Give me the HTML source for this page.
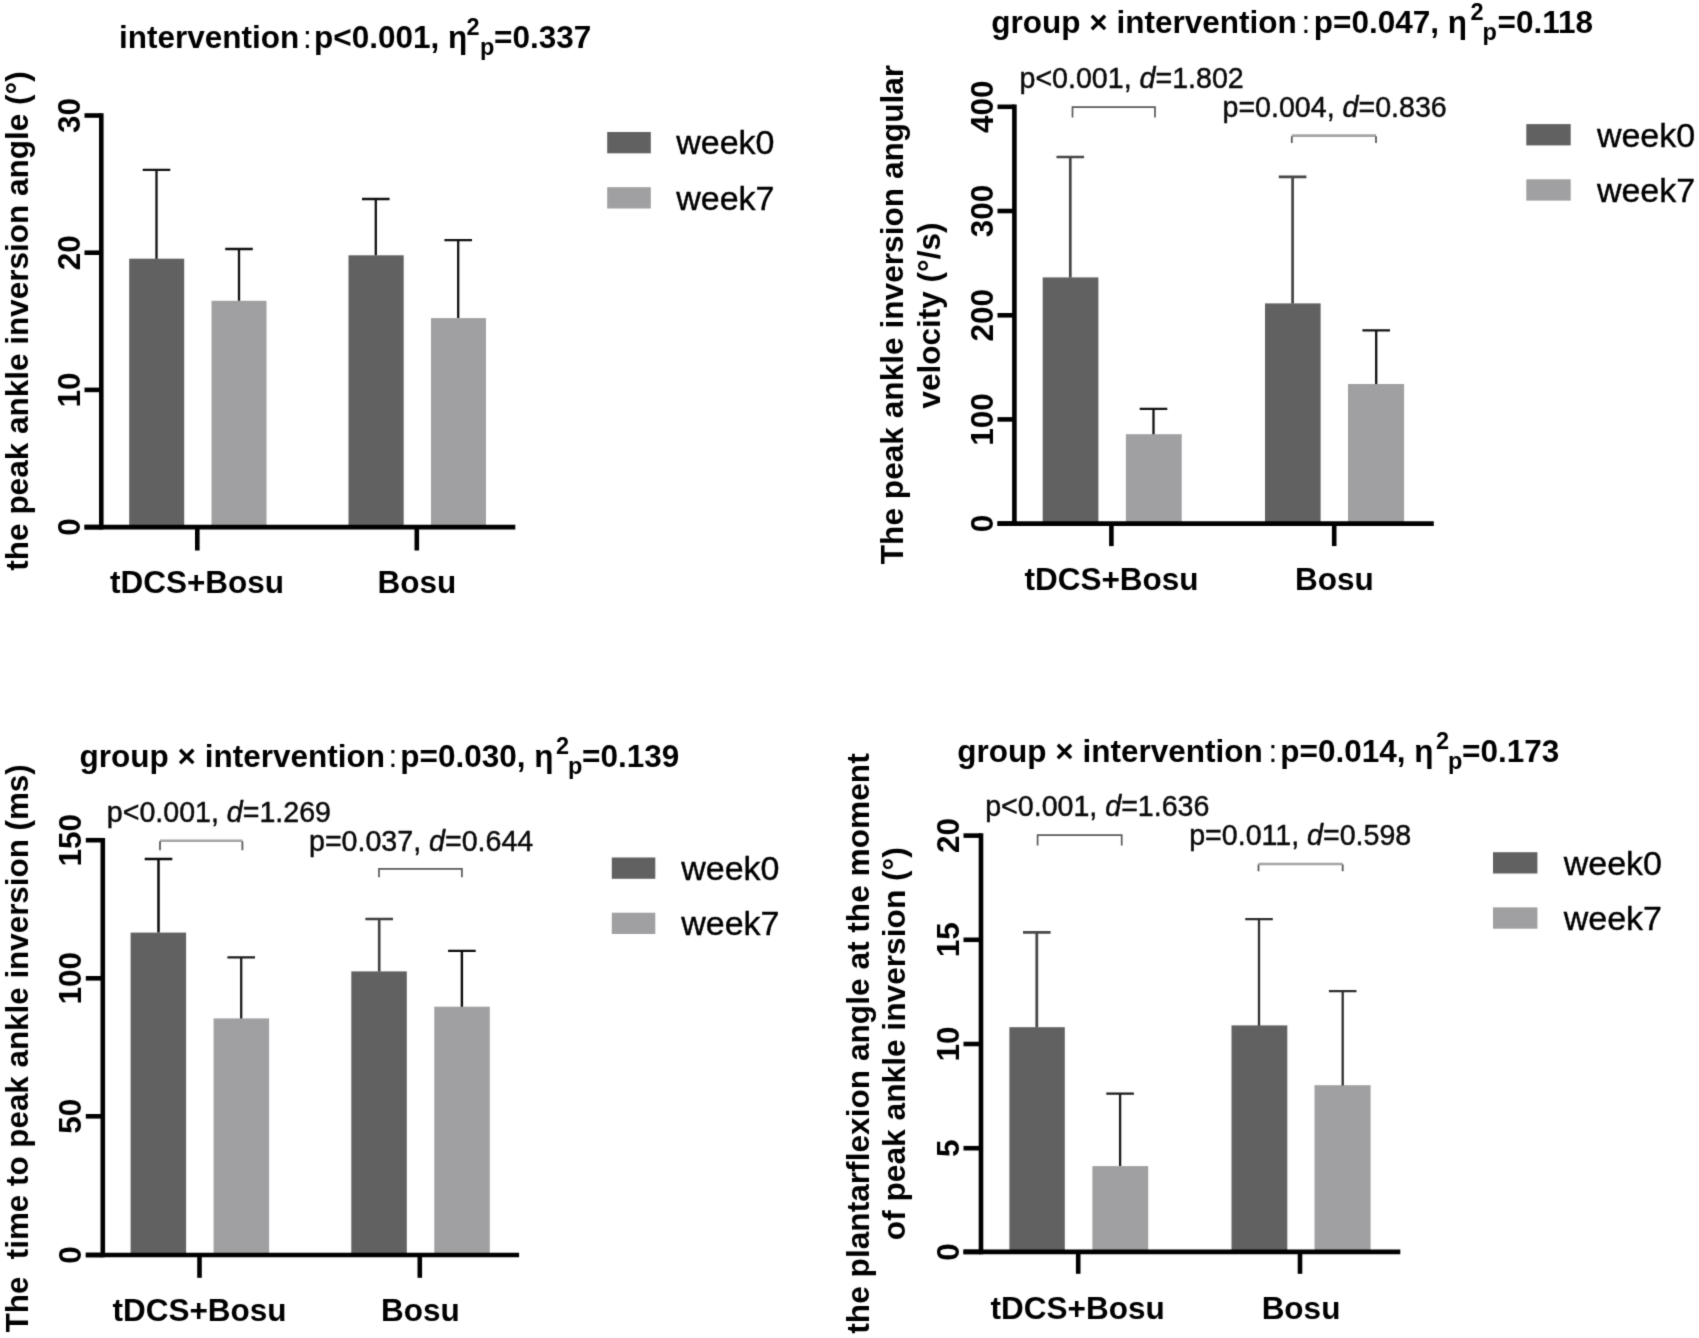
<!DOCTYPE html>
<html><head><meta charset="utf-8"><title>Figure</title>
<style>html,body{margin:0;padding:0;background:#fff}svg{display:block}</style>
</head><body>
<svg width="1699" height="1338" viewBox="0 0 1699 1338">
<defs><filter id="soft" x="0" y="0" width="1699" height="1338" filterUnits="userSpaceOnUse" color-interpolation-filters="sRGB"><feConvolveMatrix order="3" kernelMatrix="0.019 0.1 0.019 0.1 0.524 0.1 0.019 0.1 0.019" divisor="1" edgeMode="none" preserveAlpha="false"/></filter></defs>
<rect width="1699" height="1338" fill="#fff"/>
<g filter="url(#soft)">
<rect x="129.2" y="258.7" width="55.0" height="268.4" fill="#616161"/>
<rect x="211.5" y="300.8" width="55.0" height="226.3" fill="#a0a0a2"/>
<rect x="348.5" y="255.3" width="55.2" height="271.8" fill="#616161"/>
<rect x="431" y="318.1" width="55" height="209.0" fill="#a0a0a2"/>
<path d="M156.5 258.7V169.8M142.7 169.8H170.3" stroke="#111" stroke-width="2.3" fill="none"/>
<path d="M239 300.8V249M225.2 249H252.8" stroke="#111" stroke-width="2.3" fill="none"/>
<path d="M375.8 255.3V199M362.0 199H389.6" stroke="#111" stroke-width="2.3" fill="none"/>
<path d="M458.2 318.1V240.1M444.4 240.1H472.0" stroke="#111" stroke-width="2.3" fill="none"/>
<path d="M101.3 113.2V529.4" stroke="#000" stroke-width="4.6" fill="none"/>
<path d="M84.5 527.1H515.3" stroke="#000" stroke-width="4.6" fill="none"/>
<path d="M84.5 115.5H101.3" stroke="#000" stroke-width="4.6" fill="none"/>
<text transform="translate(80.2,115.5) rotate(-90)" font-family="Liberation Sans, sans-serif" font-weight="bold" font-size="31.5" text-anchor="middle" xml:space="preserve">30</text>
<path d="M84.5 252.7H101.3" stroke="#000" stroke-width="4.6" fill="none"/>
<text transform="translate(80.2,252.7) rotate(-90)" font-family="Liberation Sans, sans-serif" font-weight="bold" font-size="31.5" text-anchor="middle" xml:space="preserve">20</text>
<path d="M84.5 389.9H101.3" stroke="#000" stroke-width="4.6" fill="none"/>
<text transform="translate(80.2,389.9) rotate(-90)" font-family="Liberation Sans, sans-serif" font-weight="bold" font-size="31.5" text-anchor="middle" xml:space="preserve">10</text>
<path d="M84.5 527.1H101.3" stroke="#000" stroke-width="4.6" fill="none"/>
<text transform="translate(80.2,527.1) rotate(-90)" font-family="Liberation Sans, sans-serif" font-weight="bold" font-size="31.5" text-anchor="middle" xml:space="preserve">0</text>
<path d="M197.3 527.1V550.5" stroke="#000" stroke-width="4.6" fill="none"/>
<path d="M416.8 527.1V550.5" stroke="#000" stroke-width="4.6" fill="none"/>
<text x="197" y="593.3" font-family="Liberation Sans, sans-serif" font-weight="bold" font-size="31.5" text-anchor="middle" fill="#000" xml:space="preserve">tDCS+Bosu</text>
<text x="416.8" y="593.3" font-family="Liberation Sans, sans-serif" font-weight="bold" font-size="31.5" text-anchor="middle" fill="#000" xml:space="preserve">Bosu</text>
<rect x="607.2" y="132" width="43.6" height="21.3" fill="#616161"/>
<rect x="607.2" y="187.2" width="43.6" height="21.3" fill="#a0a0a2"/>
<text x="676.2" y="154.4" font-family="Liberation Sans, sans-serif" stroke="#000" stroke-width="0.4" font-size="34" text-anchor="start" fill="#000" xml:space="preserve">week0</text>
<text x="676.2" y="209.6" font-family="Liberation Sans, sans-serif" stroke="#000" stroke-width="0.4" font-size="34" text-anchor="start" fill="#000" xml:space="preserve">week7</text>
<text transform="translate(27.7,321) rotate(-90)" font-family="Liberation Sans, sans-serif" font-weight="bold" font-size="31.5" text-anchor="middle" xml:space="preserve">the peak ankle inversion angle (°)</text>
<text x="119" y="48.4" font-family="Liberation Sans, sans-serif" font-weight="bold" font-size="31.5" text-anchor="start" fill="#000" xml:space="preserve">intervention</text>
<text x="303" y="48.4" font-family="Liberation Sans, sans-serif" font-size="31.5" text-anchor="start" fill="#000" xml:space="preserve">:</text>
<text x="314" y="48.4" font-family="Liberation Sans, sans-serif" font-weight="bold" font-size="31.5" text-anchor="start" fill="#000" xml:space="preserve">p&lt;0.001, η</text>
<text x="466.5" y="35.4" font-family="Liberation Sans, sans-serif" font-weight="bold" font-size="23.5" text-anchor="start" fill="#000" xml:space="preserve">2</text>
<text x="480" y="55.2" font-family="Liberation Sans, sans-serif" font-weight="bold" font-size="23.5" text-anchor="start" fill="#000" xml:space="preserve">p</text>
<text x="494" y="48.4" font-family="Liberation Sans, sans-serif" font-weight="bold" font-size="31.5" text-anchor="start" fill="#000" xml:space="preserve">=0.337</text>
<rect x="1042.7" y="277.4" width="55.7" height="246.2" fill="#616161"/>
<rect x="1125.9" y="434.2" width="55.8" height="89.4" fill="#a0a0a2"/>
<rect x="1265" y="303.4" width="55.6" height="220.2" fill="#616161"/>
<rect x="1348" y="384" width="56.1" height="139.6" fill="#a0a0a2"/>
<path d="M1070.3 277.4V157.0M1056.5 157.0H1084.1" stroke="#454545" stroke-width="2.7" fill="none"/>
<path d="M1153.5 434.2V408.8M1139.7 408.8H1167.3" stroke="#111" stroke-width="2.3" fill="none"/>
<path d="M1292.6 303.4V176.8M1278.8 176.8H1306.4" stroke="#454545" stroke-width="2.7" fill="none"/>
<path d="M1376.2 384V330.4M1362.4 330.4H1390.0" stroke="#111" stroke-width="2.3" fill="none"/>
<path d="M1014.4 104.5V525.9" stroke="#000" stroke-width="4.6" fill="none"/>
<path d="M997.5 523.6H1433.8" stroke="#000" stroke-width="4.6" fill="none"/>
<path d="M997.5 106.8H1014.4" stroke="#000" stroke-width="4.6" fill="none"/>
<text transform="translate(992.7,106.8) rotate(-90)" font-family="Liberation Sans, sans-serif" font-weight="bold" font-size="31.5" text-anchor="middle" xml:space="preserve">400</text>
<path d="M997.5 211H1014.4" stroke="#000" stroke-width="4.6" fill="none"/>
<text transform="translate(992.7,211) rotate(-90)" font-family="Liberation Sans, sans-serif" font-weight="bold" font-size="31.5" text-anchor="middle" xml:space="preserve">300</text>
<path d="M997.5 315.3H1014.4" stroke="#000" stroke-width="4.6" fill="none"/>
<text transform="translate(992.7,315.3) rotate(-90)" font-family="Liberation Sans, sans-serif" font-weight="bold" font-size="31.5" text-anchor="middle" xml:space="preserve">200</text>
<path d="M997.5 419.4H1014.4" stroke="#000" stroke-width="4.6" fill="none"/>
<text transform="translate(992.7,419.4) rotate(-90)" font-family="Liberation Sans, sans-serif" font-weight="bold" font-size="31.5" text-anchor="middle" xml:space="preserve">100</text>
<path d="M997.5 523.6H1014.4" stroke="#000" stroke-width="4.6" fill="none"/>
<text transform="translate(992.7,523.6) rotate(-90)" font-family="Liberation Sans, sans-serif" font-weight="bold" font-size="31.5" text-anchor="middle" xml:space="preserve">0</text>
<path d="M1111.4 523.6V546.1" stroke="#000" stroke-width="4.6" fill="none"/>
<path d="M1334.2 523.6V546.1" stroke="#000" stroke-width="4.6" fill="none"/>
<text x="1111.5" y="590.3" font-family="Liberation Sans, sans-serif" font-weight="bold" font-size="31.5" text-anchor="middle" fill="#000" xml:space="preserve">tDCS+Bosu</text>
<text x="1334.4" y="590.3" font-family="Liberation Sans, sans-serif" font-weight="bold" font-size="31.5" text-anchor="middle" fill="#000" xml:space="preserve">Bosu</text>
<path d="M1072.5 117.4V107.2H1155.0V117.4" stroke="#595959" stroke-width="1.7" fill="none"/>
<path d="M1291.8 135.6H1376.0" stroke="#a4a4a4" stroke-width="2.6" fill="none"/>
<path d="M1291.8 142.9V136.2M1376.0 142.9V136.2" stroke="#5a5a5a" stroke-width="1.8" fill="none"/>
<text x="1019.5" y="87.6" font-family="Liberation Sans, sans-serif" stroke="#0a0a0a" stroke-width="0.45" font-size="28.6" text-anchor="start" fill="#0a0a0a" xml:space="preserve">p&lt;0.001, <tspan font-style='italic'>d</tspan>=1.802</text>
<text x="1222.5" y="116.9" font-family="Liberation Sans, sans-serif" stroke="#0a0a0a" stroke-width="0.45" font-size="28.6" text-anchor="start" fill="#0a0a0a" xml:space="preserve">p=0.004, <tspan font-style='italic'>d</tspan>=0.836</text>
<rect x="1526.3" y="124.1" width="44.4" height="21.3" fill="#616161"/>
<rect x="1526.3" y="179.3" width="44.4" height="21.3" fill="#a0a0a2"/>
<text x="1596.9" y="146.5" font-family="Liberation Sans, sans-serif" stroke="#000" stroke-width="0.4" font-size="34" text-anchor="start" fill="#000" xml:space="preserve">week0</text>
<text x="1596.9" y="201.7" font-family="Liberation Sans, sans-serif" stroke="#000" stroke-width="0.4" font-size="34" text-anchor="start" fill="#000" xml:space="preserve">week7</text>
<text transform="translate(903.3,314.5) rotate(-90)" font-family="Liberation Sans, sans-serif" font-weight="bold" font-size="31.65" text-anchor="middle" xml:space="preserve">The peak ankle inversion angular</text>
<text transform="translate(940.2,315.5) rotate(-90)" font-family="Liberation Sans, sans-serif" font-weight="bold" font-size="31.5" text-anchor="middle" xml:space="preserve">velocity (°/s)</text>
<text x="991.3" y="33.2" font-family="Liberation Sans, sans-serif" font-weight="bold" font-size="31.5" text-anchor="start" fill="#000" xml:space="preserve">group × intervention</text>
<text x="1301.5" y="33.2" font-family="Liberation Sans, sans-serif" font-size="31.5" text-anchor="start" fill="#000" xml:space="preserve">:</text>
<text x="1313.8" y="33.2" font-family="Liberation Sans, sans-serif" font-weight="bold" font-size="31.5" text-anchor="start" fill="#000" xml:space="preserve">p=0.047, η</text>
<text x="1470.5" y="20.2" font-family="Liberation Sans, sans-serif" font-weight="bold" font-size="23.5" text-anchor="start" fill="#000" xml:space="preserve">2</text>
<text x="1482.5" y="40.0" font-family="Liberation Sans, sans-serif" font-weight="bold" font-size="23.5" text-anchor="start" fill="#000" xml:space="preserve">p</text>
<text x="1497.5" y="33.2" font-family="Liberation Sans, sans-serif" font-weight="bold" font-size="31.5" text-anchor="start" fill="#000" xml:space="preserve">=0.118</text>
<rect x="130.6" y="932.6" width="55.5" height="322.4" fill="#616161"/>
<rect x="213.6" y="1018.4" width="55.5" height="236.6" fill="#a0a0a2"/>
<rect x="351.3" y="971.4" width="55.5" height="283.6" fill="#616161"/>
<rect x="434.3" y="1006.7" width="55.5" height="248.3" fill="#a0a0a2"/>
<path d="M158.5 932.6V859.1M144.7 859.1H172.3" stroke="#0a0a0a" stroke-width="2.5" fill="none"/>
<path d="M241.2 1018.4V957.3M227.4 957.3H255.0" stroke="#1c1c1c" stroke-width="2.3" fill="none"/>
<path d="M379.2 971.4V919.0M365.4 919.0H393.0" stroke="#404040" stroke-width="2.6" fill="none"/>
<path d="M461.9 1006.7V950.9M448.1 950.9H475.7" stroke="#0a0a0a" stroke-width="2.4" fill="none"/>
<path d="M102.8 837.9V1257.3" stroke="#000" stroke-width="4.6" fill="none"/>
<path d="M85.8 1255.0H519.1" stroke="#000" stroke-width="4.6" fill="none"/>
<path d="M85.8 840.2H102.8" stroke="#000" stroke-width="4.6" fill="none"/>
<text transform="translate(80.7,840.2) rotate(-90)" font-family="Liberation Sans, sans-serif" font-weight="bold" font-size="31.5" text-anchor="middle" xml:space="preserve">150</text>
<path d="M85.8 978.3H102.8" stroke="#000" stroke-width="4.6" fill="none"/>
<text transform="translate(80.7,978.3) rotate(-90)" font-family="Liberation Sans, sans-serif" font-weight="bold" font-size="31.5" text-anchor="middle" xml:space="preserve">100</text>
<path d="M85.8 1116.3H102.8" stroke="#000" stroke-width="4.6" fill="none"/>
<text transform="translate(80.7,1116.3) rotate(-90)" font-family="Liberation Sans, sans-serif" font-weight="bold" font-size="31.5" text-anchor="middle" xml:space="preserve">50</text>
<path d="M85.8 1255.0H102.8" stroke="#000" stroke-width="4.6" fill="none"/>
<text transform="translate(80.7,1255.0) rotate(-90)" font-family="Liberation Sans, sans-serif" font-weight="bold" font-size="31.5" text-anchor="middle" xml:space="preserve">0</text>
<path d="M199.5 1255.0V1277.8" stroke="#000" stroke-width="4.6" fill="none"/>
<path d="M419.8 1255.0V1277.8" stroke="#000" stroke-width="4.6" fill="none"/>
<text x="199.5" y="1321.2" font-family="Liberation Sans, sans-serif" font-weight="bold" font-size="31.5" text-anchor="middle" fill="#000" xml:space="preserve">tDCS+Bosu</text>
<text x="420.3" y="1321.2" font-family="Liberation Sans, sans-serif" font-weight="bold" font-size="31.5" text-anchor="middle" fill="#000" xml:space="preserve">Bosu</text>
<path d="M160.0 840.7H242.4" stroke="#a4a4a4" stroke-width="2.6" fill="none"/>
<path d="M160.0 850.2V841.3M242.4 850.2V841.3" stroke="#5a5a5a" stroke-width="1.8" fill="none"/>
<path d="M379.0 877.2V868.9H461.9V877.2" stroke="#595959" stroke-width="1.7" fill="none"/>
<text x="106.8" y="822.4" font-family="Liberation Sans, sans-serif" stroke="#0a0a0a" stroke-width="0.45" font-size="28.6" text-anchor="start" fill="#0a0a0a" xml:space="preserve">p&lt;0.001, <tspan font-style='italic'>d</tspan>=1.269</text>
<text x="309" y="851.4" font-family="Liberation Sans, sans-serif" stroke="#0a0a0a" stroke-width="0.45" font-size="28.6" text-anchor="start" fill="#0a0a0a" xml:space="preserve">p=0.037, <tspan font-style='italic'>d</tspan>=0.644</text>
<rect x="611.8" y="857.5" width="43.5" height="21.3" fill="#616161"/>
<rect x="611.8" y="912.7" width="43.5" height="21.3" fill="#a0a0a2"/>
<text x="681.2" y="879.9" font-family="Liberation Sans, sans-serif" stroke="#000" stroke-width="0.4" font-size="34" text-anchor="start" fill="#000" xml:space="preserve">week0</text>
<text x="681.2" y="935.1" font-family="Liberation Sans, sans-serif" stroke="#000" stroke-width="0.4" font-size="34" text-anchor="start" fill="#000" xml:space="preserve">week7</text>
<text transform="translate(28.0,1048.3) rotate(-90)" font-family="Liberation Sans, sans-serif" font-weight="bold" font-size="31.36" text-anchor="middle" xml:space="preserve">The  time to peak ankle inversion (ms)</text>
<text x="79.6" y="766.8" font-family="Liberation Sans, sans-serif" font-weight="bold" font-size="31.5" text-anchor="start" fill="#000" xml:space="preserve">group × intervention</text>
<text x="388.5" y="766.8" font-family="Liberation Sans, sans-serif" font-size="31.5" text-anchor="start" fill="#000" xml:space="preserve">:</text>
<text x="400.3" y="766.8" font-family="Liberation Sans, sans-serif" font-weight="bold" font-size="31.5" text-anchor="start" fill="#000" xml:space="preserve">p=0.030, η</text>
<text x="556" y="753.8" font-family="Liberation Sans, sans-serif" font-weight="bold" font-size="23.5" text-anchor="start" fill="#000" xml:space="preserve">2</text>
<text x="568" y="773.6" font-family="Liberation Sans, sans-serif" font-weight="bold" font-size="23.5" text-anchor="start" fill="#000" xml:space="preserve">p</text>
<text x="582" y="766.8" font-family="Liberation Sans, sans-serif" font-weight="bold" font-size="31.5" text-anchor="start" fill="#000" xml:space="preserve">=0.139</text>
<rect x="1009.4" y="1027.2" width="55.4" height="224.7" fill="#616161"/>
<rect x="1092.4" y="1166.1" width="55.8" height="85.8" fill="#a0a0a2"/>
<rect x="1231.5" y="1025.4" width="55.8" height="226.5" fill="#616161"/>
<rect x="1314.5" y="1085.2" width="56.1" height="166.7" fill="#a0a0a2"/>
<path d="M1036.8 1027.2V932.4M1023.0 932.4H1050.6" stroke="#484848" stroke-width="2.8" fill="none"/>
<path d="M1120.1 1166.1V1093.7M1106.3 1093.7H1133.9" stroke="#1c1c1c" stroke-width="2.3" fill="none"/>
<path d="M1259.0 1025.8V919.1M1245.2 919.1H1272.8" stroke="#2e2e2e" stroke-width="2.3" fill="none"/>
<path d="M1342.7 1085.4V991.2M1328.9 991.2H1356.5" stroke="#2e2e2e" stroke-width="2.3" fill="none"/>
<path d="M981 833.3V1254.2" stroke="#000" stroke-width="4.6" fill="none"/>
<path d="M963.5 1251.9H1400.3" stroke="#000" stroke-width="4.6" fill="none"/>
<path d="M963.5 835.6H981" stroke="#000" stroke-width="4.6" fill="none"/>
<text transform="translate(958.5,835.6) rotate(-90)" font-family="Liberation Sans, sans-serif" font-weight="bold" font-size="31.5" text-anchor="middle" xml:space="preserve">20</text>
<path d="M963.5 939.8H981" stroke="#000" stroke-width="4.6" fill="none"/>
<text transform="translate(958.5,939.8) rotate(-90)" font-family="Liberation Sans, sans-serif" font-weight="bold" font-size="31.5" text-anchor="middle" xml:space="preserve">15</text>
<path d="M963.5 1044H981" stroke="#000" stroke-width="4.6" fill="none"/>
<text transform="translate(958.5,1044) rotate(-90)" font-family="Liberation Sans, sans-serif" font-weight="bold" font-size="31.5" text-anchor="middle" xml:space="preserve">10</text>
<path d="M963.5 1148.2H981" stroke="#000" stroke-width="4.6" fill="none"/>
<text transform="translate(958.5,1148.2) rotate(-90)" font-family="Liberation Sans, sans-serif" font-weight="bold" font-size="31.5" text-anchor="middle" xml:space="preserve">5</text>
<path d="M963.5 1251.9H981" stroke="#000" stroke-width="4.6" fill="none"/>
<text transform="translate(958.5,1251.9) rotate(-90)" font-family="Liberation Sans, sans-serif" font-weight="bold" font-size="31.5" text-anchor="middle" xml:space="preserve">0</text>
<path d="M1078.2 1251.9V1273.8" stroke="#000" stroke-width="4.6" fill="none"/>
<path d="M1300 1251.9V1273.8" stroke="#000" stroke-width="4.6" fill="none"/>
<text x="1077.7" y="1319" font-family="Liberation Sans, sans-serif" font-weight="bold" font-size="31.5" text-anchor="middle" fill="#000" xml:space="preserve">tDCS+Bosu</text>
<text x="1301" y="1319" font-family="Liberation Sans, sans-serif" font-weight="bold" font-size="31.5" text-anchor="middle" fill="#000" xml:space="preserve">Bosu</text>
<path d="M1037.6 845.4V835.1H1121.7V845.4" stroke="#595959" stroke-width="1.7" fill="none"/>
<path d="M1258.5 864.0H1342.7" stroke="#a4a4a4" stroke-width="2.6" fill="none"/>
<path d="M1258.5 871.3V864.6M1342.7 871.3V864.6" stroke="#5a5a5a" stroke-width="1.8" fill="none"/>
<text x="985.2" y="816" font-family="Liberation Sans, sans-serif" stroke="#0a0a0a" stroke-width="0.45" font-size="28.6" text-anchor="start" fill="#0a0a0a" xml:space="preserve">p&lt;0.001, <tspan font-style='italic'>d</tspan>=1.636</text>
<text x="1189.2" y="845.4" font-family="Liberation Sans, sans-serif" stroke="#0a0a0a" stroke-width="0.45" font-size="28.6" text-anchor="start" fill="#0a0a0a" xml:space="preserve">p=0.011, <tspan font-style='italic'>d</tspan>=0.598</text>
<rect x="1493" y="852.2" width="44.4" height="21.3" fill="#616161"/>
<rect x="1493" y="907.4" width="44.4" height="21.3" fill="#a0a0a2"/>
<text x="1563.7" y="874.6" font-family="Liberation Sans, sans-serif" stroke="#000" stroke-width="0.4" font-size="34" text-anchor="start" fill="#000" xml:space="preserve">week0</text>
<text x="1563.7" y="929.8" font-family="Liberation Sans, sans-serif" stroke="#000" stroke-width="0.4" font-size="34" text-anchor="start" fill="#000" xml:space="preserve">week7</text>
<text transform="translate(868.6,1043.5) rotate(-90)" font-family="Liberation Sans, sans-serif" font-weight="bold" font-size="31.66" text-anchor="middle" xml:space="preserve">the plantarflexion angle at the moment</text>
<text transform="translate(904.8,1043.7) rotate(-90)" font-family="Liberation Sans, sans-serif" font-weight="bold" font-size="31.7" text-anchor="middle" xml:space="preserve">of peak ankle inversion (°)</text>
<text x="957.3" y="761.7" font-family="Liberation Sans, sans-serif" font-weight="bold" font-size="31.5" text-anchor="start" fill="#000" xml:space="preserve">group × intervention</text>
<text x="1268.5" y="761.7" font-family="Liberation Sans, sans-serif" font-size="31.5" text-anchor="start" fill="#000" xml:space="preserve">:</text>
<text x="1280.3" y="761.7" font-family="Liberation Sans, sans-serif" font-weight="bold" font-size="31.5" text-anchor="start" fill="#000" xml:space="preserve">p=0.014, η</text>
<text x="1436" y="748.7" font-family="Liberation Sans, sans-serif" font-weight="bold" font-size="23.5" text-anchor="start" fill="#000" xml:space="preserve">2</text>
<text x="1448" y="768.5" font-family="Liberation Sans, sans-serif" font-weight="bold" font-size="23.5" text-anchor="start" fill="#000" xml:space="preserve">p</text>
<text x="1462" y="761.7" font-family="Liberation Sans, sans-serif" font-weight="bold" font-size="31.5" text-anchor="start" fill="#000" xml:space="preserve">=0.173</text>
</g>
</svg>
</body></html>
